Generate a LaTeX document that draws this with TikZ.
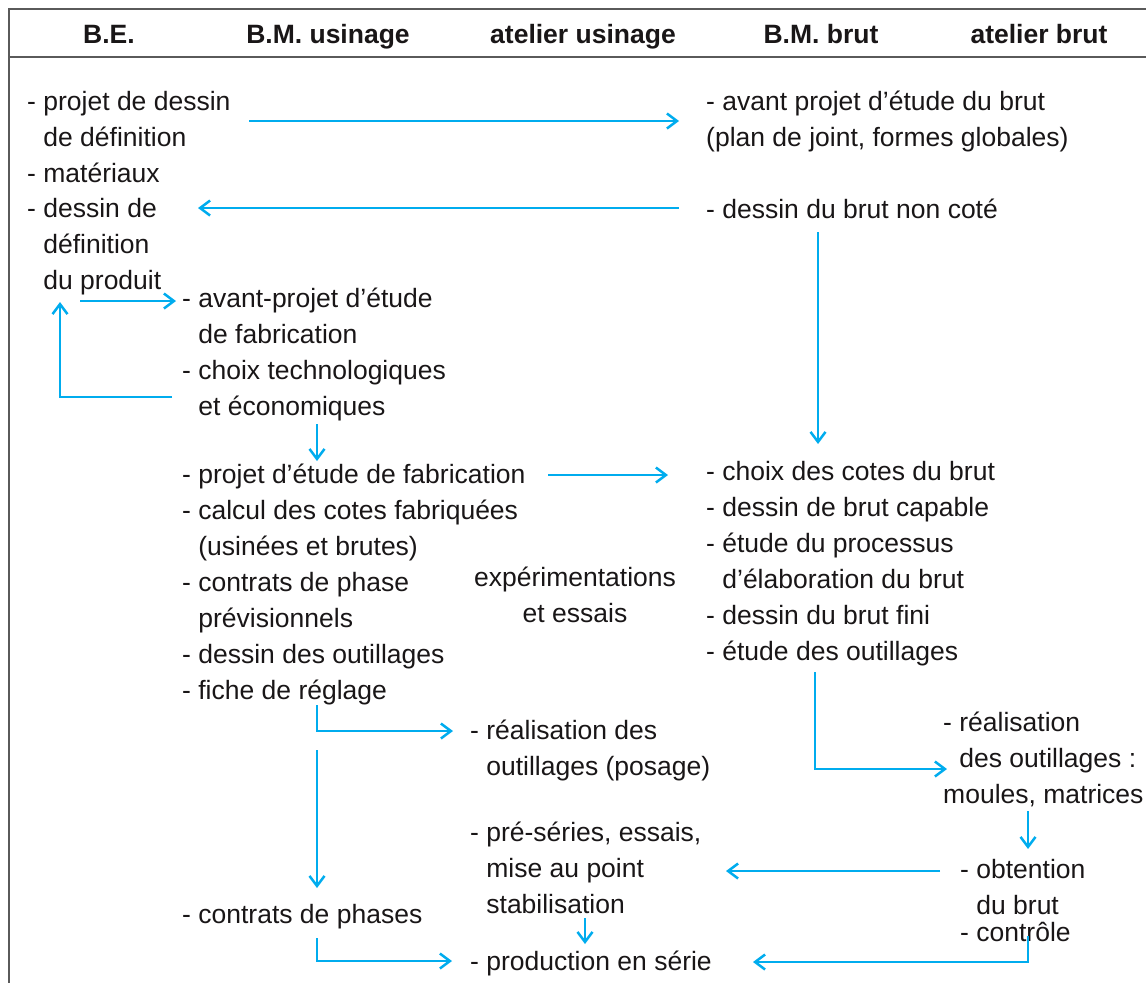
\documentclass[tikz,border=0pt]{standalone}
\usepackage{fontspec}
\setmainfont{Liberation Sans}
\usetikzlibrary{arrows.meta}
\definecolor{flow}{RGB}{0,172,238}
\definecolor{ink}{RGB}{25,22,23}
\definecolor{rulegray}{RGB}{90,90,90}
% indent a continuation line by the width of the leading dash
\newcommand\ind{\phantom{- }}

\begin{document}
\begin{tikzpicture}[x=1pt,y=-1pt,
  % text blocks are placed by the baseline of their last line
  txt/.style={anchor=base west, inner sep=0pt, align=left, text=ink,
              font=\fontsize{26.5}{36}\selectfont},
  head/.style={anchor=base, inner sep=0pt, text=ink,
               font=\fontsize{26.5}{32}\selectfont\bfseries},
  link/.style={draw=flow, line width=2.5pt,
               -{Straight Barb[length=10pt,width=15pt,line width=2.5pt]}},
  frame/.style={draw=rulegray, line width=1.6pt}]
\useasboundingbox (0,0) rectangle (1146,983);

% frame and column headings
\draw[frame] (1146,9) -- (9,9) -- (9,983);
\draw[frame] (9,57) -- (1146,57);
\node[head] (hBE)  at (109,43)  {B.E.};
\node[head] (hBMu) at (328,43)  {B.M. usinage};
\node[head] (hAu)  at (583,43)  {atelier usinage};
\node[head] (hBMb) at (821,43)  {B.M. brut};
\node[head] (hAb)  at (1039,43) {atelier brut};

% B.E.
\node[txt] (be1) at (27,146) {- projet de dessin\\\ind de définition};
\node[txt] (be2) at (27,182) {- matériaux};
\node[txt] (be3) at (27,289) {- dessin de\\\ind définition\\\ind du produit};

% B.M. brut, first stage
\node[txt] (bm1) at (706,146) {- avant projet d’étude du brut\\(plan de joint, formes globales)};
\node[txt] (bm2) at (706,218) {- dessin du brut non coté};

% B.M. usinage
\node[txt] (us1) at (182,415) {- avant-projet d’étude\\\ind de fabrication\\- choix technologiques\\\ind et économiques};
\node[txt] (us2) at (182,699) {- projet d’étude de fabrication\\- calcul des cotes fabriquées\\\ind (usinées et brutes)\\- contrats de phase\\\ind prévisionnels\\- dessin des outillages\\- fiche de réglage};
\node[txt, anchor=base, align=center] (exp) at (575,622) {expérimentations\\et essais};

% B.M. brut, second stage
\node[txt] (bm3) at (706,660) {- choix des cotes du brut\\- dessin de brut capable\\- étude du processus\\\ind d’élaboration du brut\\- dessin du brut fini\\- étude des outillages};

% ateliers
\node[txt] (at1) at (470,775) {- réalisation des\\\ind outillages (posage)};
\node[txt] (at2) at (943,803) {- réalisation\\\ind des outillages :\\moules, matrices};
\node[txt] (at3) at (470,913) {- pré-séries, essais,\\\ind mise au point\\\ind stabilisation};
\node[txt] (us3) at (182,923) {- contrats de phases};
\node[txt] (at4) at (470,970) {- production en série};
\node[txt] (ab1) at (960,914) {- obtention\\\ind du brut};
\node[txt] (ab2) at (960,941) {- contrôle};

% connector end points
\coordinate (p1a) at (249,121);  \coordinate (p1b) at (679,121);
\coordinate (p2a) at (679,208);  \coordinate (p2b) at (198,208);
\coordinate (p3a) at (818,232);  \coordinate (p3b) at (818,444);
\coordinate (p4a) at (80,301);   \coordinate (p4b) at (176,301);
\coordinate (p5a) at (172,397);  \coordinate (p5b) at (60,302);
\coordinate (p6a) at (317,424);  \coordinate (p6b) at (317,461);
\coordinate (p7a) at (548,475);  \coordinate (p7b) at (668,475);
\coordinate (p8a) at (317,705);  \coordinate (p8b) at (453,731);
\coordinate (p9a) at (317,750);  \coordinate (p9b) at (317,888);
\coordinate (p10a) at (815,672); \coordinate (p10b) at (947,769);
\coordinate (p11a) at (1028,811);\coordinate (p11b) at (1028,849);
\coordinate (p12a) at (940,871); \coordinate (p12b) at (726,871);
\coordinate (p13a) at (585,918); \coordinate (p13b) at (585,944);
\coordinate (p14a) at (317,938); \coordinate (p14b) at (452,961);
\coordinate (p15a) at (1028,936);\coordinate (p15b) at (753,962);

% flow connectors
\draw[link] (p1a) -- (p1b);
\draw[link] (p2a) -- (p2b);
\draw[link] (p3a) -- (p3b);
\draw[link] (p4a) -- (p4b);
\draw[link] (p5a) -| (p5b);
\draw[link] (p6a) -- (p6b);
\draw[link] (p7a) -- (p7b);
\draw[link] (p8a) |- (p8b);
\draw[link] (p9a) -- (p9b);
\draw[link] (p10a) |- (p10b);
\draw[link] (p11a) -- (p11b);
\draw[link] (p12a) -- (p12b);
\draw[link] (p13a) -- (p13b);
\draw[link] (p14a) |- (p14b);
\draw[link] (p15a) |- (p15b);
\end{tikzpicture}
\end{document}
